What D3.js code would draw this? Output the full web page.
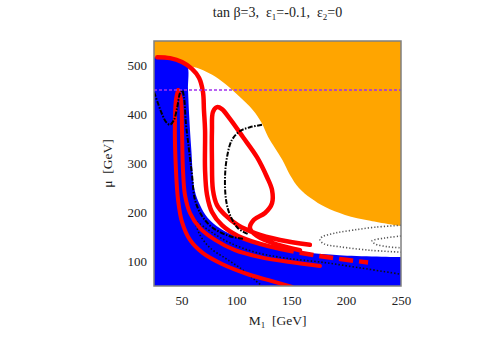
<!DOCTYPE html>
<html>
<head>
<meta charset="utf-8">
<script src="https://cdn.jsdelivr.net/npm/d3@7/dist/d3.min.js"></script>
<style>
  body { margin: 0; background: #fff; }
  svg text { font-family: "Liberation Serif", "Times New Roman", Times, serif !important; fill: #222; }
</style>
</head>
<body>
<svg id="chart" width="491" height="343"></svg>
<script>
// axis ticks
const m1Ticks = [50, 100, 150, 200, 250];
const muTicks = [100, 200, 300, 400, 500];

// excluded (orange) region lower boundary, [M1, mu]
const orangeEdge = [[25,517],[36,515],[47,509],[55,501],[67,493],[78,481],[90,462],[103,436],[115,409],
  [123,383],[129,354],[135,332],[142,307],[149,276],[157,250],[168,229],[181,211],[199,195],[222,183],[250,172]];

// blue region upper/right boundary
const blueEdge = [[25,517],[36,515],[47,509],[55,501],[56,450],[57,399],[59,328],[62,246],[67,215],[74,189],
  [85,168],[99,152],[117,138],[140,128],[163,119],[194,113],[250,109]];

// red contours
const redOuter = [[28,517],[39.6,515],[50.5,507],[59.6,493],[66,475],[69.6,446],[70.5,409],[71.5,368],[71.5,287],
  [73.3,236],[77.8,201],[86.9,174],[101.5,152],[121.6,136],[139.8,126]];
const redOuterTail = [[139.8,126],[158,118],[185,108],[220,98]];
const redLoop = [[158,123],[135.2,136],[118.8,152],[112.4,168],[116,185],[126.1,199],[132.5,219],[132.5,246],
  [128,272],[118.8,313],[106,354],[94.2,391],[86.9,411],[82.4,415],[78.7,405],[77.8,368],[77.8,307],[78.7,246],
  [82.4,215],[89.7,195],[101.5,174],[117,158],[139.8,144],[167,134]];
const redSpikeL = [[46.9,450],[45,430],[44,368],[45,287],[46.9,226],[50.5,181],[57.8,144],[69.6,117],[86.9,95],
  [110.6,74],[132.5,60],[150.7,48]];
const redSpikeR = [[46.9,450],[49.6,430],[50.5,368],[51.4,287],[53.2,236],[57.8,199],[66.9,168],[80.6,144],
  [98.8,123],[121.6,109],[148.9,99],[176.2,91]];

// black dash-dot contours
const dashDotA = [[25,446],[28.6,423],[32.3,401],[35.9,385],[39.6,379],[43.2,389],[46,413],[48.7,444],[50.5,450],
  [52.3,436],[54.1,381],[56.9,328],[59.6,277],[62.3,226],[68.7,193],[77.8,170],[93.3,152],[107,146]];
const dashDotB = [[123.4,379],[112.4,374],[103.3,366],[96,348],[91.5,313],[89.7,272],[90.6,226],[94.2,195],
  [101.5,168],[110.6,156]];

// black dotted contours
const dotsA = [[62.3,181],[66.9,154],[76,128],[89.7,107],[103.3,87],[117,62],[123.4,50]];
const dotsB = [[64.2,181],[78.7,158],[94.2,138],[117,119],[144.3,107],[176.2,99],[212.7,87],[250,74]];
const ovalOuter = [[250,174],[226.3,170],[206.3,164],[190,158],[178,150],[176.2,144],[179.9,136],[194.4,130],
  [221.8,123],[250,119]];
const ovalInner = [[250,152],[235.4,148],[223.6,142],[226.3,136],[238.1,130],[250,128]];

const muLine = 450;

const serif = '"Liberation Serif", "Times New Roman", Times, serif';
const sp = '\u00a0';

const svg = d3.select('#chart');
const margin = { top: 41, right: 90, bottom: 57, left: 154 };
const width = +svg.attr('width') - margin.left - margin.right;
const height = +svg.attr('height') - margin.top - margin.bottom;

const x = d3.scaleLinear().domain([25, 250]).range([margin.left, margin.left + width]);
const y = d3.scaleLinear().domain([50, 550]).range([margin.top + height, margin.top]);

svg.append('clipPath').attr('id', 'clip')
  .append('rect')
  .attr('x', x(25)).attr('y', y(550))
  .attr('width', x(250) - x(25)).attr('height', y(50) - y(550));

const plot = svg.append('g').attr('clip-path', 'url(#clip)');

const smooth = d3.line().x(d => x(d[0])).y(d => y(d[1])).curve(d3.curveCatmullRom.alpha(0.5));

// orange excluded region
plot.append('path')
  .attr('d', smooth(orangeEdge) + 'L' + x(250) + ',' + y(550) + 'L' + x(25) + ',' + y(550) + 'Z')
  .attr('fill', '#ffa500');

// blue region
plot.append('path')
  .attr('d', smooth(blueEdge) + 'L' + x(250) + ',' + y(50) + 'L' + x(25) + ',' + y(50) + 'Z')
  .attr('fill', '#0000ff');

// dotted ovals
[ovalOuter, ovalInner].forEach(d => {
  plot.append('path').attr('d', smooth(d))
    .attr('fill', 'none').attr('stroke', '#555')
    .attr('stroke-width', 1.6).attr('stroke-dasharray', '1.2,2');
});

// black dotted in blue
[dotsA, dotsB].forEach(d => {
  plot.append('path').attr('d', smooth(d))
    .attr('fill', 'none').attr('stroke', '#111')
    .attr('stroke-width', 1.6).attr('stroke-dasharray', '1.5,2');
});

// red contours
[redSpikeL, redSpikeR].forEach(d => {
  plot.append('path').attr('d', smooth(d))
    .attr('fill', 'none').attr('stroke', '#ff0000')
    .attr('stroke-width', 4).attr('stroke-linecap', 'round');
});
[redOuter, redLoop].forEach(d => {
  plot.append('path').attr('d', smooth(d))
    .attr('fill', 'none').attr('stroke', '#ff0000')
    .attr('stroke-width', 4.5).attr('stroke-linecap', 'round').attr('stroke-linejoin', 'round');
});
plot.append('path').attr('d', smooth(redOuterTail))
  .attr('fill', 'none').attr('stroke', '#ff0000')
  .attr('stroke-width', 4.5).attr('stroke-dasharray', '14,6');

// dash-dot contours
[dashDotA, dashDotB].forEach(d => {
  plot.append('path').attr('d', smooth(d))
    .attr('fill', 'none').attr('stroke', '#000')
    .attr('stroke-width', 2).attr('stroke-dasharray', '5,1.5,1.5,1.5');
});

// mu = 450 line
plot.append('line')
  .attr('x1', x(25)).attr('x2', x(250))
  .attr('y1', y(muLine)).attr('y2', y(muLine))
  .attr('stroke', '#a030f0').attr('stroke-width', 1.6).attr('stroke-dasharray', '3,2');

// frame
svg.append('rect')
  .attr('x', x(25)).attr('y', y(550))
  .attr('width', x(250) - x(25)).attr('height', y(50) - y(550))
  .attr('fill', 'none').attr('stroke', '#808080').attr('stroke-width', 1.5);

// axes
const xAxis = svg.append('g')
  .attr('transform', `translate(0,${y(50)})`)
  .call(d3.axisBottom(x).tickValues(m1Ticks).tickSize(0).tickPadding(10));
const yAxis = svg.append('g')
  .attr('transform', `translate(${x(25)},0)`)
  .call(d3.axisLeft(y).tickValues(muTicks).tickSize(0).tickPadding(7));
[xAxis, yAxis].forEach(a => {
  a.attr('font-family', null);
  a.select('.domain').remove();
  a.selectAll('text').style('font-family', serif).attr('font-size', 13).attr('fill', '#222');
});

// title
const title = svg.append('text')
  .attr('x', (x(25) + x(250)) / 2).attr('y', 17)
  .attr('text-anchor', 'middle').attr('font-size', 14).style('font-family', serif);
title.append('tspan').text('tan β=3,' + sp + sp + 'ε');
title.append('tspan').attr('font-size', 9).attr('dy', 3).text('1');
title.append('tspan').attr('dy', -3).text('=-0.1,' + sp + sp + 'ε');
title.append('tspan').attr('font-size', 9).attr('dy', 3).text('2');
title.append('tspan').attr('dy', -3).text('=0');

// axis labels
const xl = svg.append('text')
  .attr('x', (x(25) + x(250)) / 2).attr('y', 325)
  .attr('text-anchor', 'middle').attr('font-size', 13.5).style('font-family', serif);
xl.append('tspan').text('M');
xl.append('tspan').attr('font-size', 9).attr('dy', 3).text('1');
xl.append('tspan').attr('dy', -3).text(sp + sp + '[GeV]');

svg.append('text')
  .attr('transform', `translate(112,${(y(50) + y(550)) / 2}) rotate(-90)`)
  .attr('text-anchor', 'middle').attr('font-size', 13.5).style('font-family', serif)
  .text('μ' + sp + sp + '[GeV]');
</script>
</body>
</html>
